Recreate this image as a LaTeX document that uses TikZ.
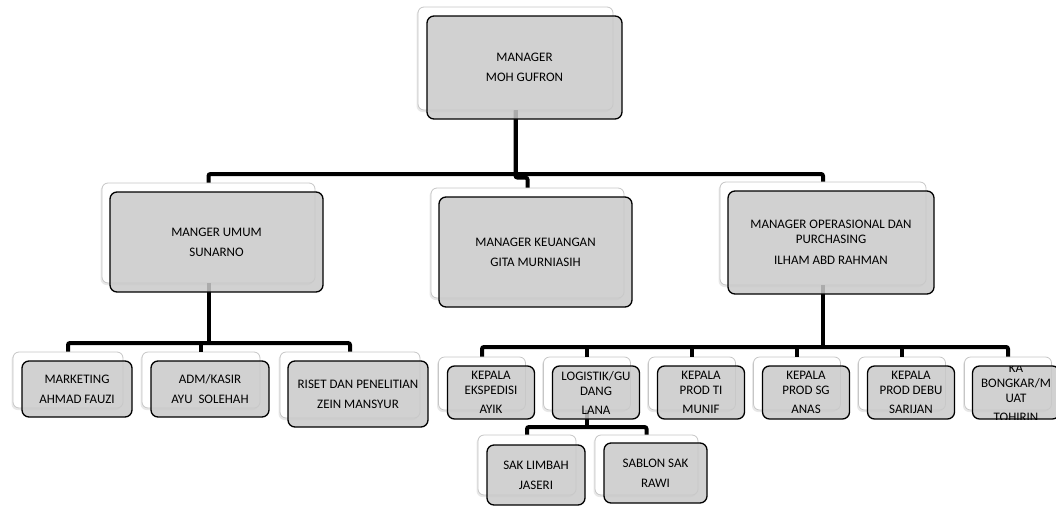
\documentclass[tikz,border=0pt]{standalone}
\usepackage{fontspec}
\setmainfont{Carlito}
\usetikzlibrary{shadows}

\tikzset{
  backbox/.style={draw=gray!45, line width=0.8pt, fill=white, rounded corners=6pt,
    drop shadow={shadow xshift=-1.5pt, shadow yshift=-2pt, opacity=0.18}},
  frontbox/.style={draw=black, line width=1.3pt, fill=gray!42, fill opacity=0.85,
    text opacity=1, rounded corners=7pt, align=center},
  boxsize/.style 2 args={minimum width=#1pt, minimum height=#2pt},
  link/.style={line width=4pt, rounded corners=2pt}
}

\begin{document}
\begin{tikzpicture}[x=1pt, y=-1pt, inner sep=0pt, font=\fontsize{13}{15}\selectfont]
\useasboundingbox (0,0) rectangle (1056,506);
\clip (0,0) rectangle (1056,506);
\node[backbox, boxsize={195}{103}] (mgr) at (515.5,58.5) {};
\node[backbox, boxsize={213}{100}] (umum) at (208.5,233) {};
\node[backbox, boxsize={193}{110}] (keu) at (527.5,243) {};
\node[backbox, boxsize={206}{103}] (ops) at (823,233.5) {};
\node[backbox, boxsize={110}{56}] (mkt) at (68,380) {};
\node[backbox, boxsize={118}{56}] (adm) at (201,380) {};
\node[backbox, boxsize={140}{66}] (riset) at (350,385) {};
\node[backbox, boxsize={87}{53}] (eksp) at (482,383.5) {};
\node[backbox, boxsize={87}{53}] (log) at (587,383.5) {};
\node[backbox, boxsize={87}{53}] (ti) at (692,383.5) {};
\node[backbox, boxsize={87}{53}] (sg) at (797,383.5) {};
\node[backbox, boxsize={87}{53}] (debu) at (902,383.5) {};
\node[backbox, boxsize={87}{53}] (bongkar) at (1008,383.5) {};
\node[backbox, boxsize={98}{60}] (sak) at (527,465) {};
\node[backbox, boxsize={103}{60}] (sablon) at (646.5,465) {};

\coordinate (topbar) at (515.5,174);
\draw[link] (umum.north) |- (topbar) -| (ops.north);
\draw[link] (mgr.south) -- (topbar);
\draw[link] (mgr.south) |- ([yshift=10pt]keu.north) -- (keu.north);
\coordinate (umumbar) at (208.5,343);
\draw[link] (umum.south) -- (umumbar);
\draw[link] (mkt.north) |- (umumbar) -| (riset.north);
\draw[link] (adm.north) -- (adm.north |- umumbar);
\coordinate (opsbar) at (823,347);
\draw[link] (ops.south) -- (opsbar);
\draw[link] (eksp.north) |- (opsbar) -| (bongkar.north);
\foreach \n in {log,ti,sg,debu}
  \draw[link] (\n.north) -- (\n.north |- opsbar);
\coordinate (logbar) at (587,427);
\draw[link] (log.south) -- (logbar);
\draw[link] (sak.north) |- (logbar) -| (sablon.north);

\node[frontbox, boxsize={195}{103}] (mgrT) at ([shift={(9,9)}]mgr) {MANAGER\\[5pt]MOH GUFRON};
\node[frontbox, boxsize={213}{100}] (umumT) at ([shift={(8,9)}]umum) {MANGER UMUM\\[5pt]SUNARNO};
\node[frontbox, boxsize={193}{110}] (keuT) at ([shift={(8,9)}]keu) {MANAGER KEUANGAN\\[5pt]GITA MURNIASIH};
\node[frontbox, boxsize={206}{103}] (opsT) at ([shift={(8,9)}]ops) {MANAGER OPERASIONAL DAN\\PURCHASING\\[6pt]ILHAM ABD RAHMAN};
\node[frontbox, boxsize={110}{56}] (mktT) at ([shift={(9,9)}]mkt) {MARKETING\\[5pt]AHMAD FAUZI};
\node[frontbox, boxsize={118}{56}] (admT) at ([shift={(9,9)}]adm) {ADM/KASIR\\[5pt]AYU~~SOLEHAH};
\node[frontbox, boxsize={140}{66}] (risetT) at ([shift={(8,9)}]riset) {RISET DAN PENELITIAN\\[5pt]ZEIN MANSYUR};
\node[frontbox, boxsize={87}{53}] (ekspT) at ([shift={(9,9)}]eksp) {KEPALA\\EKSPEDISI\\[4pt]AYIK};
\node[frontbox, boxsize={87}{53}] (logT) at ([shift={(9,9)}]log) {LOGISTIK/GU\\DANG\\[4pt]LANA};
\node[frontbox, boxsize={87}{53}] (tiT) at ([shift={(9,9)}]ti) {KEPALA\\PROD TI\\[4pt]MUNIF};
\node[frontbox, boxsize={87}{53}] (sgT) at ([shift={(9,9)}]sg) {KEPALA\\PROD SG\\[4pt]ANAS};
\node[frontbox, boxsize={87}{53}] (debuT) at ([shift={(9,9)}]debu) {KEPALA\\PROD DEBU\\[4pt]SARIJAN};
\node[frontbox, boxsize={87}{53}, path picture={
  \node[align=center, text opacity=1] at (path picture bounding box.center)
    {KA\\BONGKAR/M\\UAT\\[4pt]TOHIRIN};}] (bongkarT) at ([shift={(8,9)}]bongkar) {};
\node[frontbox, boxsize={98}{60}] (sakT) at ([shift={(9,10)}]sak) {SAK LIMBAH\\[5pt]JASERI};
\node[frontbox, boxsize={103}{60}] (sablonT) at ([shift={(9,8)}]sablon) {SABLON SAK\\[5pt]RAWI};
\end{tikzpicture}
\end{document}
